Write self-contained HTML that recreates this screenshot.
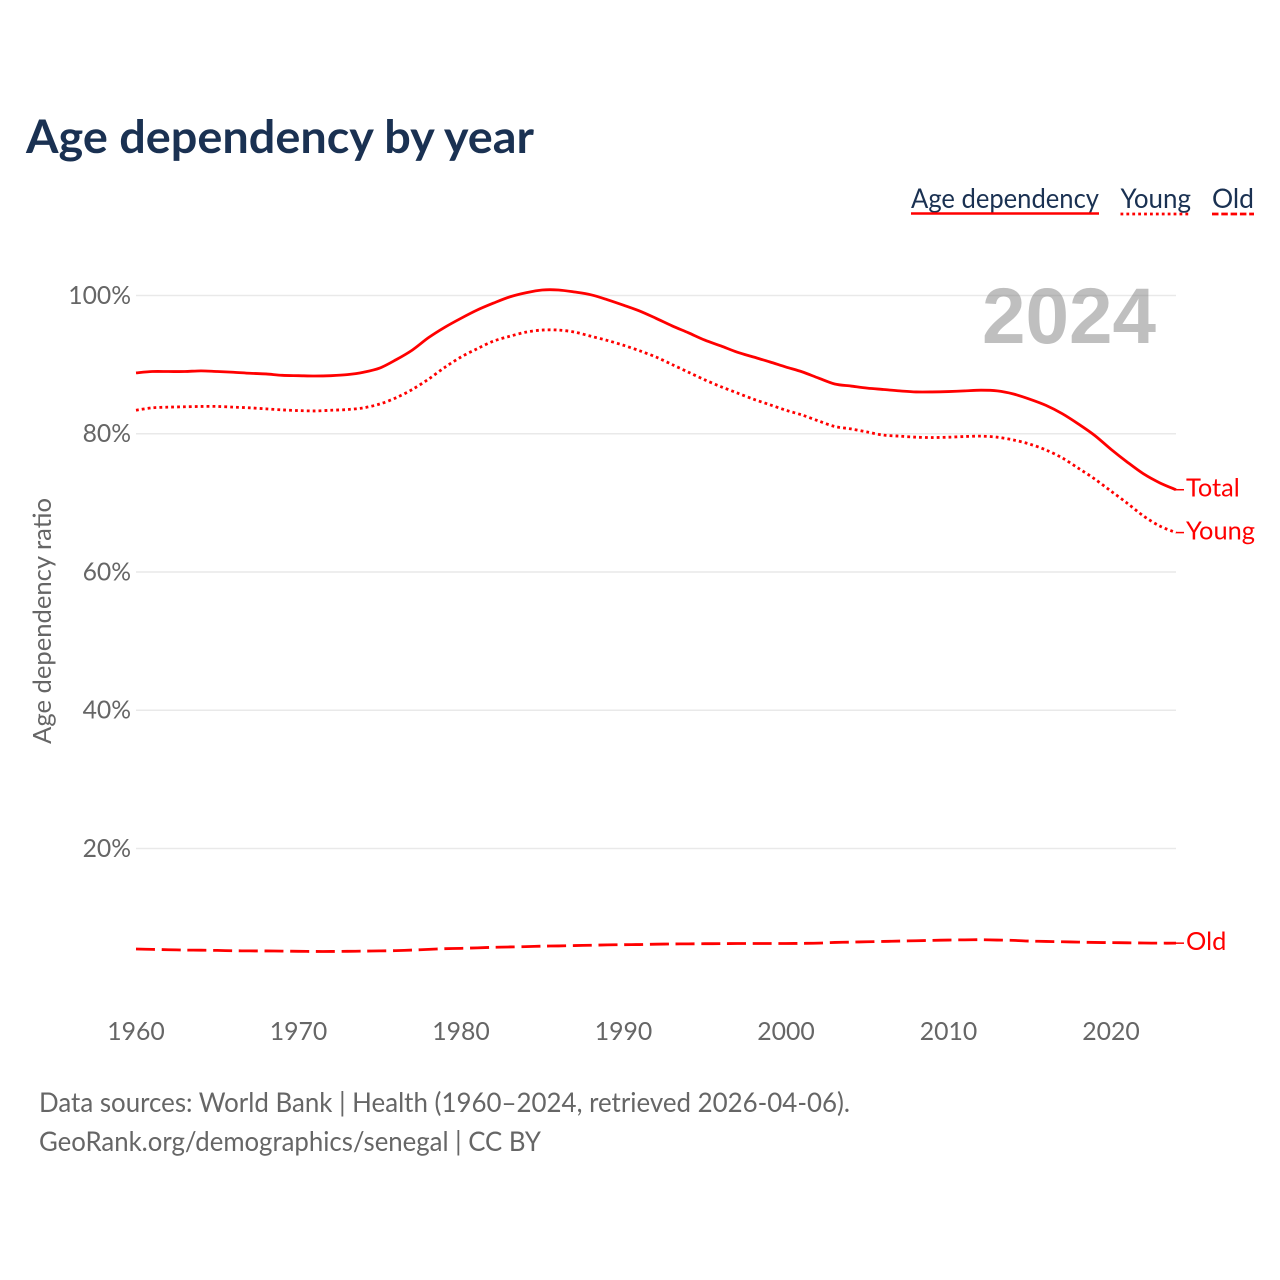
<!DOCTYPE html>
<html lang="en">
<head>
<meta charset="utf-8">
<title>Age dependency by year</title>
<style>
html,body{margin:0;padding:0;background:#fff;width:1280px;height:1280px;overflow:hidden}
svg{display:block}
text{font-family:"Lato","Carlito","Liberation Sans",sans-serif}
</style>
</head>
<body>
<svg id="chart" width="1280" height="1280" viewBox="0 0 1280 1280" xmlns="http://www.w3.org/2000/svg">
  <rect width="1280" height="1280" fill="#fff"/>
  <text x="26" y="153" font-size="46" font-weight="700" fill="#1a3152" textLength="508" lengthAdjust="spacingAndGlyphs">Age dependency by year</text>

  <g id="grid"></g>
  <g id="ticks"></g>
  <text transform="translate(51,621) rotate(-90)" text-anchor="middle" font-size="25" fill="#666" textLength="246" lengthAdjust="spacingAndGlyphs">Age dependency ratio</text>

  <text x="982" y="343" font-size="79" font-weight="700" fill="#808080" fill-opacity="0.5" textLength="174" lengthAdjust="spacingAndGlyphs" style="font-family:'Liberation Sans',sans-serif">2024</text>

  <g id="series"></g>

  <g>
    <g>
      <text x="911" y="208" font-size="27" fill="#1a3152" textLength="188" lengthAdjust="spacingAndGlyphs">Age dependency</text>
      <line x1="911" x2="1099" y1="213.5" y2="213.5" stroke="#f00" stroke-width="2.6"/>
    </g>
    <g>
      <text x="1120.5" y="208" font-size="27" fill="#1a3152" textLength="70.5" lengthAdjust="spacingAndGlyphs">Young</text>
      <line x1="1120.5" x2="1190" y1="214" y2="214" stroke="#f00" stroke-width="2.8" stroke-dasharray="2.8 3.1"/>
    </g>
    <g>
      <text x="1212" y="208" font-size="27" fill="#1a3152" textLength="42" lengthAdjust="spacingAndGlyphs">Old</text>
      <line x1="1212" x2="1254" y1="214" y2="214" stroke="#f00" stroke-width="2.8" stroke-dasharray="6.5 2.8"/>
    </g>
  </g>

  <text x="39" y="1112" font-size="27" fill="#666" textLength="811" lengthAdjust="spacingAndGlyphs">Data sources: World Bank | Health (1960–2024, retrieved 2026-04-06).</text>
  <text x="39" y="1151" font-size="27" fill="#666" textLength="502" lengthAdjust="spacingAndGlyphs">GeoRank.org/demographics/senegal | CC BY</text>
</svg>
<script>
const firstYear = 1960;
const yTickValues = [20, 40, 60, 80, 100];
const xTickValues = [1960, 1970, 1980, 1990, 2000, 2010, 2020];
const totalValues = [88.8,89.0,89.0,89.0,89.1,89.0,88.9,88.75,88.65,88.45,88.4,88.35,88.4,88.55,88.9,89.5,90.7,92.1,93.9,95.4,96.7,97.9,98.9,99.8,100.4,100.8,100.8,100.5,100.1,99.4,98.6,97.75,96.7,95.6,94.6,93.55,92.7,91.8,91.1,90.4,89.65,88.95,88.05,87.2,86.9,86.6,86.4,86.2,86.05,86.05,86.1,86.2,86.3,86.2,85.75,85.0,84.1,82.9,81.4,79.75,77.75,75.9,74.2,72.9,71.9];
const youngValues = [83.4,83.75,83.85,83.9,83.95,83.95,83.85,83.75,83.6,83.45,83.35,83.3,83.4,83.5,83.75,84.3,85.2,86.4,87.9,89.6,91.1,92.3,93.4,94.1,94.7,95.0,95.0,94.7,94.1,93.5,92.8,92.0,91.1,90.0,88.9,87.8,86.8,85.9,85.0,84.2,83.4,82.7,81.85,81.05,80.7,80.25,79.8,79.65,79.5,79.45,79.5,79.6,79.65,79.5,79.1,78.5,77.65,76.5,75.0,73.45,71.7,69.95,68.1,66.65,65.7];
const oldValues = [5.45,5.4,5.35,5.3,5.28,5.25,5.2,5.18,5.17,5.15,5.12,5.1,5.1,5.12,5.15,5.18,5.22,5.3,5.4,5.5,5.55,5.62,5.7,5.75,5.8,5.87,5.9,5.95,6.0,6.05,6.08,6.1,6.15,6.18,6.2,6.22,6.23,6.25,6.25,6.25,6.25,6.27,6.3,6.4,6.45,6.5,6.55,6.6,6.65,6.7,6.75,6.78,6.8,6.75,6.7,6.6,6.55,6.5,6.45,6.4,6.38,6.35,6.32,6.3,6.3];
const seriesNames = ["Total", "Young", "Old"];

const NS = "http://www.w3.org/2000/svg";
const xScale = yr => 136 + (yr - 1960) * (1176 - 136) / 64;
const yScale = v => 986.7 - v * 6.912;
function make(tag, attrs, parent, txt) {
  const el = document.createElementNS(NS, tag);
  for (const k in attrs) el.setAttribute(k, attrs[k]);
  if (txt !== undefined) el.textContent = txt;
  parent.appendChild(el);
  return el;
}
function smoothPath(pts) {
  const k = 0.16;
  let d = "M" + pts[0][0].toFixed(2) + " " + pts[0][1].toFixed(2);
  for (let i = 0; i < pts.length - 1; i++) {
    const p0 = pts[Math.max(i - 1, 0)], p1 = pts[i], p2 = pts[i + 1], p3 = pts[Math.min(i + 2, pts.length - 1)];
    const c1x = p1[0] + (p2[0] - p0[0]) * k, c1y = p1[1] + (p2[1] - p0[1]) * k;
    const c2x = p2[0] - (p3[0] - p1[0]) * k, c2y = p2[1] - (p3[1] - p1[1]) * k;
    d += " C" + c1x.toFixed(2) + " " + c1y.toFixed(2) + " " + c2x.toFixed(2) + " " + c2y.toFixed(2) + " " + p2[0].toFixed(2) + " " + p2[1].toFixed(2);
  }
  return d;
}
const gridG = document.getElementById("grid");
const tickG = document.getElementById("ticks");
const seriesG = document.getElementById("series");

yTickValues.forEach(v => {
  const line = make("line", {x1: 136, x2: 1176, y1: yScale(v), y2: yScale(v), stroke: "#e9e9e9", "stroke-width": 1.5}, gridG);
  
  
  const label = make("text", {x: 131, y: yScale(v) + 8.5, "text-anchor": "end", "font-size": 24.7, fill: "#666"}, tickG, v + "%");
  
  
});
xTickValues.forEach(v => {
  const label = make("text", {x: xScale(v), y: 1040, "text-anchor": "middle", "font-size": 24.8, fill: "#666"}, tickG, v);
  
  
});

function drawSeries(values, dash, labelText) {
  const lastYear = firstYear + values.length - 1;
  const pts = values.map((v, i) => [xScale(firstYear + i), yScale(v)]);
  const path = make("path", {d: smoothPath(pts), fill: "none", stroke: "#f00", "stroke-width": 2.8, "stroke-linejoin": "round"}, seriesG);
  if (dash) path.setAttribute("stroke-dasharray", dash);
  
  
  const endY = yScale(values[values.length - 1]);
  const endX = xScale(lastYear);
  const leader = make("line", {x1: endX, x2: endX + 8, y1: endY, y2: endY, stroke: "#f00", "stroke-width": 1.5}, seriesG);
  
  
  const label = make("text", {x: endX + 10, y: endY + 6.7, "font-size": 25.4, fill: "#f00"}, seriesG, labelText);
  
  
}
drawSeries(totalValues, null, seriesNames[0]);
drawSeries(youngValues, "2.8 3.1", seriesNames[1]);
drawSeries(oldValues, "19 6.7", seriesNames[2]);
</script>
</body>
</html>
